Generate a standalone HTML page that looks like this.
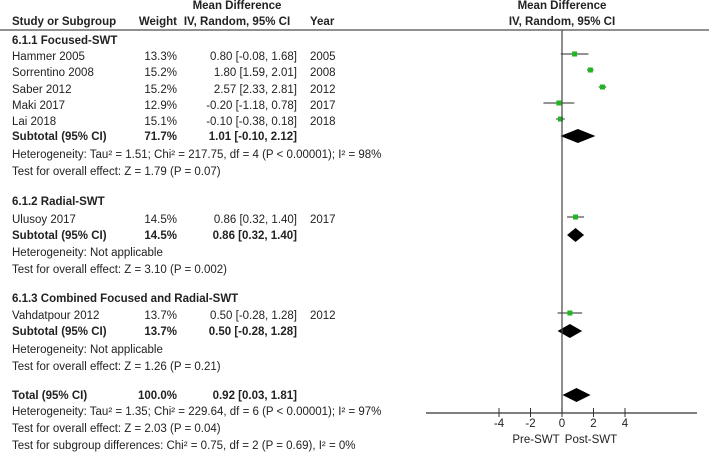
<!DOCTYPE html>
<html><head><meta charset="utf-8"><style>
body{margin:0;background:#fff;}
svg{display:block;font-family:"Liberation Sans",Arial,sans-serif;font-size:11.5px;fill:#222;}
.b{font-weight:bold;}
</style></head><body>
<svg width="709" height="454" viewBox="0 0 709 454">
<g id="hdr">
<text x="237" y="9" text-anchor="middle" class="b">Mean Difference</text>
<text x="12" y="25" class="b">Study or Subgroup</text>
<text x="177" y="25" text-anchor="end" class="b">Weight</text>
<text x="237" y="25" text-anchor="middle" class="b">IV, Random, 95% CI</text>
<text x="310" y="25" class="b">Year</text>
<text x="562" y="9" text-anchor="middle" class="b">Mean Difference</text>
<text x="562" y="25" text-anchor="middle" class="b">IV, Random, 95% CI</text>
<line x1="0" y1="30" x2="709" y2="30" stroke="#222"/>
</g>
<g id="table"></g>
<g id="plot"></g>
</svg>
<script>
const studies=["Hammer 2005","Sorrentino 2008","Saber 2012","Maki 2017","Lai 2018","Ulusoy 2017","Vahdatpour 2012"];
const studyWeights=["13.3%","15.2%","15.2%","12.9%","15.1%","14.5%","13.7%"];
const studyYears=["2005","2008","2012","2017","2018","2017","2012"];
const studyMean=[0.80,1.80,2.57,-0.20,-0.10,0.86,0.50];
const studyLow=[-0.08,1.59,2.33,-1.18,-0.38,0.32,-0.28];
const studyHigh=[1.68,2.01,2.81,0.78,0.18,1.40,1.28];
const studyRowY=[56,72,89,105,121,219,315];
const summaryLabels=["Subtotal (95% CI)","Subtotal (95% CI)","Subtotal (95% CI)","Total (95% CI)"];
const summaryWeights=["71.7%","14.5%","13.7%","100.0%"];
const summaryMean=[1.01,0.86,0.50,0.92];
const summaryLow=[-0.10,0.32,-0.28,0.03];
const summaryHigh=[2.12,1.40,1.28,1.81];
const summaryRowY=[136,235,331,395];
const tickValues=[-4,-2,0,2,4];
const tickLabels=["-4","-2","0","2","4"];

const NS="http://www.w3.org/2000/svg";
const X0=562, PX=15.75, AXIS_Y=413;
const xs=v=>X0+v*PX;
const fmt=v=>v.toFixed(2);
function mk(tag,attrs,parent,txt){const e=document.createElementNS(NS,tag);for(const k in attrs)e.setAttribute(k,attrs[k]);if(txt!==undefined)e.textContent=txt;parent.appendChild(e);return e;}
const T=document.getElementById('table'), P=document.getElementById('plot');
function txt(x,y,s,anchor,bold,name){const e=mk('text',{x:x,y:y+4,'text-anchor':anchor||'start'},T,s);if(bold)e.setAttribute('class','b');

return e;}

const notes=[
 [12,40,"6.1.1 Focused-SWT",true,"subgroup-1-title"],
 [12,154,"Heterogeneity: Tau\u00b2 = 1.51; Chi\u00b2 = 217.75, df = 4 (P < 0.00001); I\u00b2 = 98%",false,"subgroup-1-heterogeneity"],
 [12,171,"Test for overall effect: Z = 1.79 (P = 0.07)",false,"subgroup-1-overall-effect"],
 [12,201,"6.1.2 Radial-SWT",true,"subgroup-2-title"],
 [12,252,"Heterogeneity: Not applicable",false,"subgroup-2-heterogeneity"],
 [12,269,"Test for overall effect: Z = 3.10 (P = 0.002)",false,"subgroup-2-overall-effect"],
 [12,298,"6.1.3 Combined Focused and Radial-SWT",true,"subgroup-3-title"],
 [12,349,"Heterogeneity: Not applicable",false,"subgroup-3-heterogeneity"],
 [12,366,"Test for overall effect: Z = 1.26 (P = 0.21)",false,"subgroup-3-overall-effect"],
 [12,411,"Heterogeneity: Tau\u00b2 = 1.35; Chi\u00b2 = 229.64, df = 6 (P < 0.00001); I\u00b2 = 97%",false,"total-heterogeneity"],
 [12,428,"Test for overall effect: Z = 2.03 (P = 0.04)",false,"total-overall-effect"],
 [12,445,"Test for subgroup differences: Chi\u00b2 = 0.75, df = 2 (P = 0.69), I\u00b2 = 0%",false,"subgroup-differences"]
];
notes.forEach(n=>txt(n[0],n[1],n[2],'start',n[3],n[4]));

studies.forEach((s,i)=>{
 const y=studyRowY[i];
 txt(12,y,s,'start',false,'study-name');
 txt(177,y,studyWeights[i],'end',false,'study-weight');
 txt(297,y,fmt(studyMean[i])+" ["+fmt(studyLow[i])+", "+fmt(studyHigh[i])+"]",'end',false,'study-ci');
 txt(310,y,studyYears[i],'start',false,'study-year');
 const l=mk('line',{x1:xs(studyLow[i]),x2:xs(studyHigh[i]),y1:y-2,y2:y-2,stroke:'#555','stroke-width':1.2},P);
 
 
 const r=mk('rect',{x:xs(studyMean[i])-2.5,y:y-4.5,width:5,height:5,fill:'#22b522'},P);
 
 
});
summaryLabels.forEach((s,i)=>{
 const y=summaryRowY[i];
 txt(12,y,s,'start',true,'summary-label');
 txt(177,y,summaryWeights[i],'end',true,'summary-weight');
 txt(297,y,fmt(summaryMean[i])+" ["+fmt(summaryLow[i])+", "+fmt(summaryHigh[i])+"]",'end',true,'summary-ci');
 const d=mk('polygon',{points:[xs(summaryLow[i])+','+y,xs(summaryMean[i])+','+(y-7),xs(summaryHigh[i])+','+y,xs(summaryMean[i])+','+(y+7)].join(' '),fill:'#000'},P);
 
 
});
let z=mk('line',{x1:X0,x2:X0,y1:30,y2:AXIS_Y,stroke:'#444','stroke-width':1.2},P);


let ax=mk('line',{x1:426,x2:697,y1:AXIS_Y,y2:AXIS_Y,stroke:'#333','stroke-width':1.2},P);


tickValues.forEach((v,i)=>{
 const t=mk('line',{x1:xs(v),x2:xs(v),y1:AXIS_Y-5,y2:AXIS_Y+4,stroke:'#333'},P);
 
 
 const l=mk('text',{x:xs(v),y:AXIS_Y+14,'text-anchor':'middle'},P,tickLabels[i]);
 
 
});
let a=mk('text',{x:536,y:443,'text-anchor':'middle'},P,'Pre-SWT');


let b=mk('text',{x:591,y:443,'text-anchor':'middle'},P,'Post-SWT');


</script>
</body></html>
